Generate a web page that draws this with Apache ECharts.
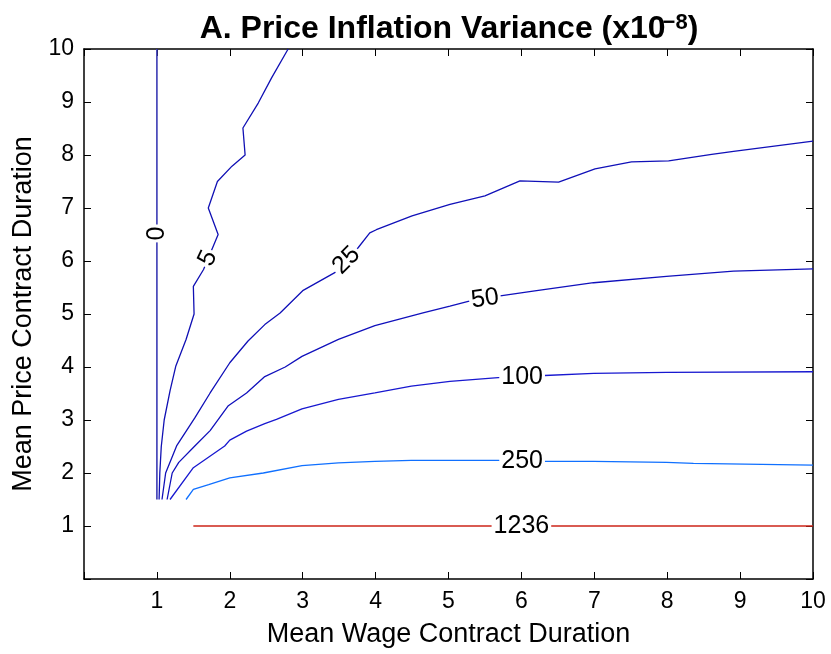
<!DOCTYPE html>
<html>
<head>
<meta charset="utf-8">
<script src="https://cdn.jsdelivr.net/npm/echarts@6/dist/echarts.min.js"></script>
<style>
html,body{margin:0;padding:0;background:#fff;}
#chart{width:831px;height:654px;}
</style>
</head>
<body>
<div id="chart"></div>
<script>
// ---- data ----
const xTickLabels = ['1','2','3','4','5','6','7','8','9','10'];
const yTickLabels = ['1','2','3','4','5','6','7','8','9','10'];

const levels = ['0', '5', '25', '50', '100', '250', '1236'];

const c0 = [[1.0,1.5],[1.0,10]];
const c5 = [[1.03,1.5],[1.04,2.0],[1.06,2.5],[1.10,3.0],[1.18,3.55],[1.26,4.02],[1.40,4.52],[1.51,5.0],[1.50,5.52],[1.64,5.84],[1.84,6.5],[1.705,7.0],[1.83,7.5],[2.03,7.79],[2.21,8.0],[2.18,8.51],[2.39,8.98],[2.575,9.46],[2.80,10]];
const c25 = [[1.07,1.5],[1.12,2.0],[1.27,2.51],[1.52,3.04],[1.73,3.51],[2.0,4.08],[2.25,4.49],[2.48,4.80],[2.69,5.02],[3.0,5.44],[3.44,5.78],[3.76,6.25],[3.92,6.53],[4.01,6.59],[4.50,6.85],[5.02,7.07],[5.50,7.23],[5.98,7.51],[6.51,7.49],[7.01,7.74],[7.51,7.87],[8.02,7.89],[8.61,8.01],[8.91,8.07],[10.0,8.26]];
const c50 = [[1.14,1.5],[1.21,2.0],[1.30,2.2],[1.52,2.51],[1.73,2.80],[1.98,3.27],[2.23,3.51],[2.48,3.82],[2.76,4.0],[2.99,4.20],[3.49,4.52],[3.99,4.78],[4.65,5.02],[5.02,5.15],[5.27,5.24],[5.71,5.34],[6.16,5.43],[6.99,5.59],[7.99,5.71],[8.91,5.81],[10.0,5.85]];
const c100 = [[1.18,1.5],[1.50,2.10],[1.93,2.51],[2.0,2.62],[2.23,2.79],[2.48,2.93],[2.64,3.01],[2.99,3.21],[3.49,3.39],[3.99,3.51],[4.49,3.64],[5.02,3.73],[5.68,3.80],[6.32,3.84],[6.99,3.88],[7.99,3.90],[10.0,3.91]];
const c250 = [[1.40,1.5],[1.50,1.69],[1.71,1.78],[2.0,1.91],[2.46,2.0],[2.99,2.14],[3.49,2.19],[3.99,2.22],[4.49,2.24],[5.68,2.24],[6.32,2.22],[6.99,2.22],[7.99,2.20],[8.36,2.18],[10.0,2.15]];
const c1236 = [[1.5,1.0],[10.0,1.0]];

const labelPos = [[1.0,6.52],[1.70,6.05],[3.60,6.01],[5.50,5.29],[6.01,3.80],[6.01,2.22],[6.0,1.0]];
const labelAngle = [90, 65, 45, 8, 0, 0, 0];

// ---- chart ----
const contours = [c0, c5, c25, c50, c100, c250, c1236];
const colors = ['#3a3ab4', '#1010b4', '#1010b8', '#1010bc', '#1818d0', '#1070ff', '#cc2418'];
const widths = [1.6, 1.3, 1.3, 1.3, 1.3, 1.3, 1.4];
const FONT = 'Liberation Sans, Arial, Helvetica, sans-serif';

const chart = echarts.init(document.getElementById('chart'), null, {renderer: 'canvas'});

const series = contours.map((d, i) => ({
  type: 'line',
  name: levels[i],
  data: d,
  showSymbol: false,
  symbol: 'none',
  lineStyle: {color: colors[i], width: widths[i]},
  z: 2,
  silent: true
}));

series.push({
  type: 'scatter',
  symbolSize: 0,
  z: 5,
  silent: true,
  itemStyle: {color: '#000', opacity: 0},
  data: labelPos.map((p, i) => ({
    value: p,
    name: levels[i],
    label: {rotate: labelAngle[i]}
  })),
  label: {
    show: true,
    position: 'inside',
    formatter: p => p.name,
    color: '#000',
    textBorderWidth: 0,
    textBorderColor: 'transparent',
    opacity: 1,
    fontSize: 25,
    fontFamily: FONT,
    backgroundColor: '#fff',
    padding: [0, 2, 0, 2]
  }
});

const xBase = {
  type: 'value', min: 0, max: 10, interval: 1,
  splitLine: {show: false},
  axisLine: {show: true, onZero: false, lineStyle: {color: '#000', width: 1.5}},
  axisTick: {show: true, inside: true, length: 7, lineStyle: {color: '#000', width: 1}}
};

chart.setOption({
  animation: false,
  backgroundColor: '#fff',
  title: {
    text: 'A. Price Inflation Variance (x10{sup|\u22128})',
    left: 444, top: 7, textAlign: 'center',
    textStyle: {
      fontFamily: FONT, fontSize: 32, fontWeight: 'bold', color: '#000',
      rich: {
        sup: {fontFamily: FONT, fontSize: 22, fontWeight: 'bold', color: '#000', verticalAlign: 'top', padding: [0, 0, 12, -3]}
      }
    }
  },
  grid: {left: 84, right: 18, top: 49, bottom: 75, containLabel: false},
  xAxis: [
    Object.assign({}, xBase, {
      position: 'bottom',
      name: 'Mean Wage Contract Duration',
      nameLocation: 'middle', nameGap: 42,
      nameTextStyle: {fontFamily: FONT, fontSize: 27, color: '#000'},
      axisLabel: {
        color: '#000', fontSize: 23, fontFamily: FONT, margin: 11,
        showMaxLabel: true, showMinLabel: true,
        formatter: v => (v >= 1 ? xTickLabels[Math.round(v) - 1] : '')
      }
    }),
    Object.assign({}, xBase, {position: 'top', axisLabel: {show: false}})
  ],
  yAxis: [
    Object.assign({}, xBase, {
      position: 'left',
      name: 'Mean Price Contract Duration',
      nameLocation: 'middle', nameGap: 46,
      nameTextStyle: {fontFamily: FONT, fontSize: 27, color: '#000'},
      axisLabel: {
        color: '#000', fontSize: 23, fontFamily: FONT, margin: 10,
        showMaxLabel: true, showMinLabel: true,
        formatter: v => (v >= 1 ? yTickLabels[Math.round(v) - 1] : '')
      }
    }),
    Object.assign({}, xBase, {position: 'right', axisLabel: {show: false}})
  ],
  series: series
});
</script>
</body>
</html>
